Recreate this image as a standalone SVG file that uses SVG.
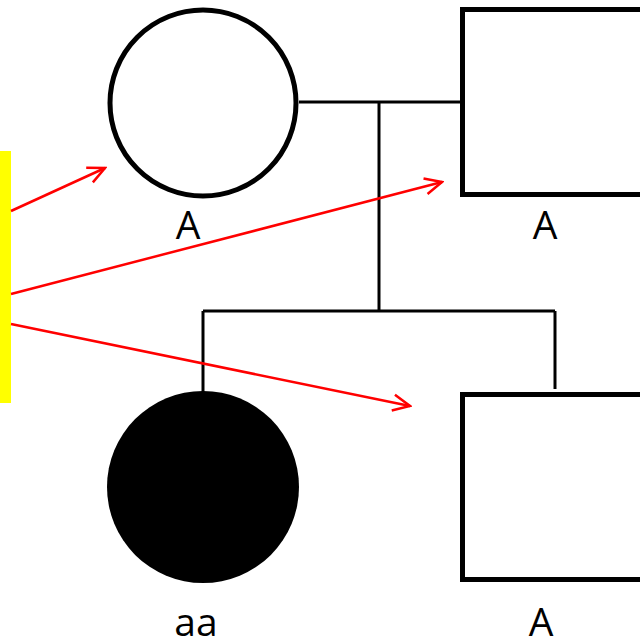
<svg xmlns="http://www.w3.org/2000/svg" width="640" height="643" viewBox="0 0 640 643">
<defs>
<style>
.node{fill:#fff;stroke:#000;stroke-width:5}
.line{stroke:#000;stroke-width:3;fill:none}
.arrow{stroke:#f00;stroke-width:2.5;fill:none;marker-end:url(#ah)}
.lbl{font-family:"Open Sans","Liberation Sans",sans-serif;font-size:39px;fill:#000;text-anchor:middle}
</style>
<marker id="ah" viewBox="0 0 20 20" refX="18" refY="10" markerWidth="20" markerHeight="20" markerUnits="userSpaceOnUse" orient="auto">
<path d="M1,2 L18,10 L1,18" fill="none" stroke="#f00" stroke-width="2.5"/>
</marker>
</defs>
<rect x="0" y="151" width="11" height="252" fill="#ffff00"/>
<g id="connectors">
<line class="line" x1="299" y1="102" x2="460" y2="102"/>
<line class="line" x1="379" y1="102" x2="379" y2="311"/>
<line class="line" x1="203" y1="311" x2="555" y2="311"/>
<line class="line" x1="203" y1="311" x2="203" y2="392"/>
<line class="line" x1="555" y1="311" x2="555" y2="389"/>
<line class="arrow" x1="11" y1="211" x2="105" y2="168"/>
<line class="arrow" x1="11" y1="294" x2="442" y2="182"/>
<line class="arrow" x1="11" y1="324" x2="410" y2="406"/>
</g>
<g id="mother">
<circle class="node" cx="203" cy="103" r="93"/>
<text class="lbl" x="188" y="239">A</text>
</g>
<g id="father">
<rect class="node" x="462.5" y="9.5" width="190" height="185"/>
<text class="lbl" x="545" y="239">A</text>
</g>
<g id="daughter">
<circle cx="203" cy="487" r="96" fill="#000"/>
<text class="lbl" x="196" y="636">aa</text>
</g>
<g id="son">
<rect class="node" x="462.5" y="394.5" width="190" height="185"/>
<text class="lbl" x="541" y="636">A</text>
</g>
</svg>
